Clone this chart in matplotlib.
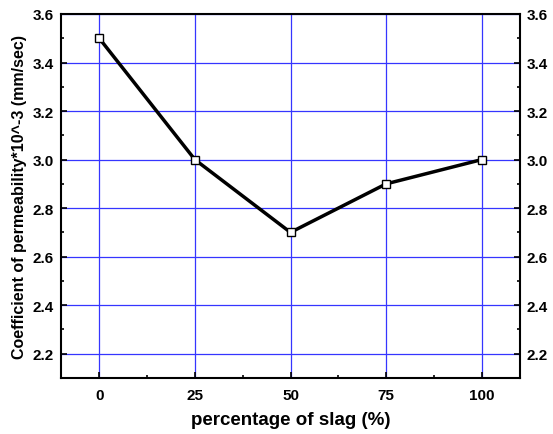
import matplotlib.pyplot as plt
from matplotlib.ticker import MultipleLocator

# slag content vs permeability
slag = [0, 25, 50, 75, 100]
permeability = [3.5, 3.0, 2.7, 2.9, 3.0]
x_ticks = [0, 25, 50, 75, 100]

plt.rcParams['font.family'] = ['Liberation Sans', 'DejaVu Sans']
plt.rcParams['font.weight'] = 'bold'

fig = plt.figure(figsize=(5.53, 4.35), dpi=100)
ax = fig.add_axes([61 / 553, 1 - 379 / 435, (520 - 61) / 553, (379 - 15) / 435])

ax.plot(slag, permeability, color='black', linewidth=2.5, marker='s',
        markersize=6, markerfacecolor='white', markeredgecolor='black',
        markeredgewidth=1, zorder=3)

ax.set_xlim(-10, 110)
ax.set_ylim(2.1, 3.6)
ax.set_xticks(x_ticks)
ax.xaxis.set_minor_locator(MultipleLocator(12.5))
ax.yaxis.set_major_locator(MultipleLocator(0.2))
ax.yaxis.set_minor_locator(MultipleLocator(0.1))
ax.grid(True, which='major', color='#3535ff', linewidth=0.9)
ax.set_axisbelow(True)

ax.tick_params(which='both', direction='in', right=True, labelright=True,
               labelsize=11, width=1.2)
ax.tick_params(which='major', length=4)
ax.tick_params(which='minor', length=2.5)
ax.tick_params(axis='x', pad=7)
ax.tick_params(axis='y', pad=5)
ax.set_yticklabels([f'{v:.1f}' for v in ax.get_yticks()])
for s in ax.spines.values():
    s.set_linewidth(1.5)

ax.set_xlabel('percentage of slag (%)', fontsize=13.5, fontweight='bold', labelpad=7)
ax.set_ylabel('Coefficient of permeability*10^-3 (mm/sec)', fontsize=11.5,
              fontweight='bold', labelpad=4)

fig.savefig('out.png', dpi=100)
